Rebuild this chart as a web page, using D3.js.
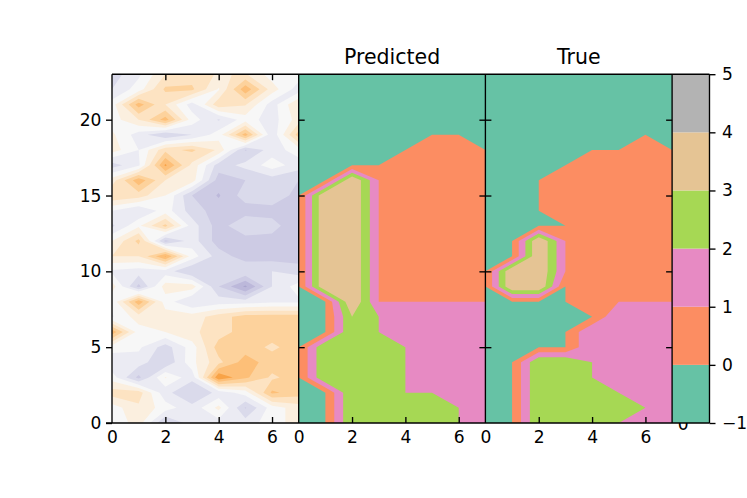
<!DOCTYPE html>
<html>
<head>
<meta charset="utf-8">
<script src="https://cdn.jsdelivr.net/npm/d3@7"></script>
<style>
  body { margin: 0; background: #fff; }
  svg { display: block; }
  text { font-family: "DejaVu Sans", sans-serif; fill: #000; }
  .axis text { font-size: 17.1px; }
  .axis line, .axis path { stroke: #000; stroke-width: 1.35px; }
</style>
</head>
<body>
<svg id="chart" width="747" height="498"></svg>
<script>
// grids are 8 columns x 24 rows, first row is y = 0
const inputGrid = [
  [-0.3, 1, -2.6, -1, -1, -1, 0, 1],
  [0, 1.3, 0, -1.2, 0.8, -2.6, 0, 1],
  [2, 2, -1.2, -2.4, -1.2, 0, 3.7, 3],
  [0, -2.8, 0.6, -1.2, 5.4, 3.7, 2.3, 3],
  [-1.3, -1, -2.45, 0.2, 2.2, 4, 3, 2.6],
  [0, -0.3, -2, 0, 3, 3, 2.3, 3],
  [4.2, 0, 0.5, 1.3, 2, 3, 3, 3],
  [-0.6, 1, 1, 1, 2, 3, 3, 3],
  [-0.3, 4.2, 0, -1.5, -1, -1, -0.7, -0.7],
  [1, -2.8, 1, 1, -2.5, -4.7, -1.5, 0],
  [-0.7, -1, -1, -2.5, -1.5, -1.6, -1.5, -2],
  [1.5, 1.5, 4.6, 0, -2, -3, -3, -3],
  [0.5, 2.8, -2.8, -1, -3, -3, -3, -3],
  [-1.7, 0.3, 2.8, -1, -3, -1.6, -2, -3.5],
  [-0.5, -1.5, 0, -2, -3, -3, -3, -3],
  [2.5, 2, 0.5, -2.5, -3.6, -2, -1.6, -3],
  [1, 4.2, 1.5, 1, -3, -2.5, -2, -2.5],
  [-2, -0.7, 4.7, 1.2, -2, -1.2, 0, -1],
  [1, -0.5, 2.2, 2.7, 1.3, -2.6, -1, 0],
  [0.7, -1, -2.5, -1.5, 0, 4, -1.3, 3],
  [0, 1.5, 4, 0, -1.6, 0, -1, 1],
  [0, 4, 1.5, -1, 2.2, 1.6, -1, 1.5],
  [-1.5, 0, 2.7, 2.7, 0.4, 4.2, 1, -1],
  [-2, -0.7, 1.5, 2, 1.4, 1.6, 0, 0]
];
const predictedGrid = [
  [0, 0, 3, 3, 3, 3, 2, 2],
  [0, 0, 3, 3, 3, 3, 2, 2],
  [0, 0, 3, 3, 2, 2, 2, 2],
  [0, 3, 3, 3, 2, 2, 2, 2],
  [0, 3, 3, 3, 2, 2, 2, 2],
  [0, 3, 3, 3, 2, 2, 2, 2],
  [0, 0, 3, 2, 2, 2, 2, 2],
  [0, 0, 3, 2, 2, 2, 2, 2],
  [0, 0, 4, 1, 1, 1, 1, 1],
  [0, 4, 4, 1, 1, 1, 1, 1],
  [0, 4, 4, 1, 1, 1, 1, 1],
  [0, 4, 4, 1, 1, 1, 1, 1],
  [0, 4, 4, 1, 1, 1, 1, 1],
  [0, 4, 4, 1, 1, 1, 1, 1],
  [0, 4, 4, 1, 1, 1, 1, 1],
  [0, 4, 4, 1, 1, 1, 1, 1],
  [0, 0, 4, 1, 1, 1, 1, 1],
  [0, 0, 0, 0, 1, 1, 1, 1],
  [0, 0, 0, 0, 0, 1, 1, 0],
  [0, 0, 0, 0, 0, 0, 0, 0],
  [0, 0, 0, 0, 0, 0, 0, 0],
  [0, 0, 0, 0, 0, 0, 0, 0],
  [0, 0, 0, 0, 0, 0, 0, 0],
  [0, 0, 0, 0, 0, 0, 0, 0]
];
const trueGrid = [
  [0, 0, 3, 3, 3, 2, 2, 2],
  [0, 0, 3, 3, 3, 3, 2, 2],
  [0, 0, 3, 3, 3, 2, 2, 2],
  [0, 0, 3, 3, 2, 2, 2, 2],
  [0, 0, 3, 3, 2, 2, 2, 2],
  [0, 0, 0, 0, 2, 2, 2, 2],
  [0, 0, 0, 0, 2, 2, 2, 2],
  [0, 0, 0, 0, 0, 2, 2, 2],
  [0, 0, 0, 0, 1, 1, 1, 1],
  [0, 4, 4, 0, 1, 1, 1, 1],
  [0, 4, 4, 1, 1, 1, 1, 1],
  [0, 0, 4, 1, 1, 1, 1, 1],
  [0, 0, 4, 1, 1, 1, 1, 1],
  [0, 0, 0, 0, 1, 1, 1, 1],
  [0, 0, 0, 1, 1, 1, 1, 1],
  [0, 0, 0, 1, 1, 1, 1, 1],
  [0, 0, 0, 1, 1, 1, 1, 1],
  [0, 0, 0, 0, 1, 1, 1, 1],
  [0, 0, 0, 0, 0, 0, 1, 0],
  [0, 0, 0, 0, 0, 0, 0, 0],
  [0, 0, 0, 0, 0, 0, 0, 0],
  [0, 0, 0, 0, 0, 0, 0, 0],
  [0, 0, 0, 0, 0, 0, 0, 0],
  [0, 0, 0, 0, 0, 0, 0, 0]
];

const inputLevels = [-4.5, -3.5, -2.5, -1.5, -0.5, 0.5, 1.5, 2.5, 3.5, 4.5];
const inputColors = ["#aaa6ce", "#bcb8da", "#cdcbe4", "#dadaeb", "#ebebf3", "#f7f7f7",
  "#fbefdf", "#fde3c2", "#fdd29c", "#fdbf78", "#f8a347"];

const classLevels = [-1, 0, 1, 2, 3, 4, 5];
const classColors = ["#66c2a5", "#fc8d62", "#e78ac3", "#a6d854", "#e5c494", "#b3b3b3"];

const xTicks = [0, 2, 4, 6];
const yTicks = [0, 5, 10, 15, 20];
const barTicks = [-1, 0, 1, 2, 3, 4, 5];

const svg = d3.select("#chart");
const margin = { top: 74.2, bottom: 423, left: 112 };
const panelWidth = 186.7;
const barWidth = 37.4;

const y = d3.scaleLinear().domain([0, 23]).range([margin.bottom, margin.top]);
const yBar = d3.scaleLinear().domain([-1, 5]).range([margin.bottom, margin.top]);

const panels = [0, 1, 2].map(i => {
  const left = margin.left + i * panelWidth;
  return { i, left, x: d3.scaleLinear().domain([0, 7]).range([left, left + panelWidth]) };
});

// fill a panel with the lowest colour then stack one contour per level on top
function drawContours(panel, grid, levels, colors) {
  const x = panel.x;
  const clipId = `clip-${panel.i}`;
  svg.append("clipPath").attr("id", clipId)
    .append("rect")
    .attr("x", x(0)).attr("y", y(23))
    .attr("width", x(7) - x(0)).attr("height", y(0) - y(23));

  const g = svg.append("g").attr("clip-path", `url(#${clipId})`);
  g.append("rect")
    .attr("x", x(0)).attr("y", y(23))
    .attr("width", x(7) - x(0)).attr("height", y(0) - y(23))
    .attr("fill", colors[0]);

  const contours = d3.contours().size([8, 24]).thresholds(levels)(grid.flat());
  // d3 puts grid node i at i + 0.5
  const path = d3.geoPath(d3.geoTransform({
    point(px, py) { this.stream.point(x(px - 0.5), y(py - 0.5)); }
  }));
  g.selectAll("path")
    .data(contours)
    .enter().append("path")
    .attr("d", path)
    .attr("fill", (d, i) => colors[i + 1]);
}

drawContours(panels[0], inputGrid, inputLevels, inputColors);
// matplotlib bands are (low, high], so a node sitting on a level stays in the band below
const classThresholds = classLevels.slice(1, -1).map(d => d + 1e-4);
drawContours(panels[1], predictedGrid, classThresholds, classColors);
drawContours(panels[2], trueGrid, classThresholds, classColors);

// half hidden label under the colorbar
svg.append("g").attr("class", "axis")
  .append("text")
  .attr("x", 683.3).attr("y", 430)
  .attr("text-anchor", "middle")
  .text("0");

// colorbar
const barLeft = margin.left + 3 * panelWidth;
svg.append("g").selectAll("rect")
  .data(classColors)
  .enter().append("rect")
  .attr("x", barLeft)
  .attr("y", (d, i) => yBar(classLevels[i + 1]))
  .attr("width", barWidth)
  .attr("height", (d, i) => yBar(classLevels[i]) - yBar(classLevels[i + 1]))
  .attr("fill", d => d);

function addAxis(axis, tx, ty) {
  const g = svg.append("g").attr("class", "axis")
    .attr("transform", `translate(${tx},${ty})`)
    .call(axis);
  g.select(".domain").remove();
  return g;
}

// y axes: ticks sit on the shared edges
addAxis(d3.axisLeft(y).tickValues(yTicks).tickSize(6).tickPadding(4.5).tickFormat(d3.format("d")), margin.left, 0);
addAxis(d3.axisRight(y).tickValues(yTicks.slice(1)).tickSize(6).tickFormat(""), panels[1].left, 0);
addAxis(d3.axisRight(y).tickValues(yTicks.slice(1)).tickSize(6).tickFormat(""), panels[2].left, 0);
addAxis(d3.axisLeft(y).tickValues(yTicks.slice(1)).tickSize(6).tickFormat(""), panels[2].left, 0);
addAxis(d3.axisLeft(y).tickValues(yTicks.slice(1)).tickSize(6).tickFormat(""), barLeft, 0);

// x axes: ticks point inwards, labels stay below
panels.forEach(p => {
  addAxis(d3.axisTop(p.x).tickValues(xTicks.slice(1)).tickSize(6).tickFormat(""), 0, margin.bottom);
  const labels = addAxis(d3.axisBottom(p.x).tickValues(xTicks).tickSize(0).tickPadding(7.5).tickFormat(d3.format("d")), 0, margin.bottom);
  labels.selectAll("line").remove();
});
addAxis(d3.axisBottom(panels[0].x).tickValues(xTicks.slice(1)).tickSize(6).tickFormat(""), 0, margin.top);

// colorbar axis
addAxis(d3.axisRight(yBar).tickValues(barTicks).tickSize(6).tickPadding(6.5).tickFormat(d3.format("d")), barLeft + barWidth, 0);

// spines
const edges = panels.map(p => p.left).concat([barLeft, barLeft + barWidth]);
svg.append("g").selectAll("line")
  .data(edges)
  .enter().append("line")
  .attr("x1", d => d).attr("x2", d => d)
  .attr("y1", margin.top).attr("y2", margin.bottom)
  .attr("stroke", "#000").attr("stroke-width", 1.35);
[margin.top, margin.bottom].forEach(v => {
  svg.append("line")
    .attr("x1", v === margin.top ? margin.left : margin.left - 6)
    .attr("x2", barLeft + barWidth)
    .attr("y1", v).attr("y2", v)
    .attr("stroke", "#000").attr("stroke-width", 1.35);
});

// titles
[["Predicted", panels[1]], ["True", panels[2]]].forEach(([label, p]) => {
  svg.append("text")
    .attr("x", p.left + panelWidth / 2)
    .attr("y", 64)
    .attr("text-anchor", "middle")
    .style("font-size", "20.5px")
    .text(label);
});
</script>
</body>
</html>
